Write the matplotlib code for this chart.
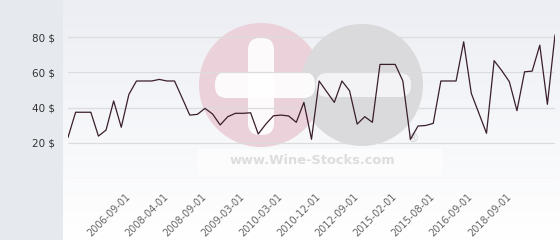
import matplotlib
matplotlib.use("Agg")
import matplotlib.pyplot as plt
import numpy as np
from matplotlib.patches import Circle, FancyBboxPatch

# prix (en $), un point par cotation
prices = [23.2, 37.4, 37.4, 37.4, 23.9, 27.3, 43.8, 28.9, 47.5, 55.1,
          55.1, 55.1, 56.0, 55.1, 55.1, 45.5, 35.8, 36.2, 39.6, 36.4,
          30.2, 34.9, 36.8, 36.8, 37.1, 25.1, 30.7, 35.4, 35.8, 35.3,
          31.7, 43.0, 22.1, 55.1, 49.0, 43.0, 55.1, 49.6, 30.7, 34.9,
          31.7, 64.5, 64.5, 64.5, 55.2, 22.1, 29.6, 29.9, 31.1, 55.1,
          55.1, 55.1, 77.3, 48.1, 36.8, 25.5, 66.6, 61.0, 54.7, 38.3,
          60.3, 60.7, 75.4, 41.9, 81.1]

tick_pos = [8, 13, 18, 23, 28, 33, 38, 43, 48, 53, 58]
tick_labels = ['2006-09-01', '2008-04-01', '2008-09-01', '2009-03-01', '2010-03-01',
               '2010-12-01', '2012-09-01', '2015-02-01', '2015-08-01', '2016-09-01',
               '2018-09-01']
y_ticks = [0, 20, 40, 60, 80]

W, H = 560, 240
fig = plt.figure(figsize=(W / 100, H / 100), dpi=100)
fig.patch.set_facecolor('#e6eaee')

# fond dégradé de la zone du graphique
bg = fig.add_axes([63 / W, 0, 1 - 63 / W, 1])
grad = np.linspace(0, 1, 256).reshape(-1, 1)
top = np.array(matplotlib.colors.to_rgb('#eceef3'))
bottom = np.array([1.0, 1.0, 1.0])
img = top + (bottom - top) * grad[..., None]
bg.imshow(img, aspect='auto', extent=[0, 1, 0, 1])
bg.set_axis_off()

# filigrane
wm = fig.add_axes([0, 0, 1, 1])
wm.set_xlim(0, W)
wm.set_ylim(H, 0)
wm.set_axis_off()
wm.add_patch(FancyBboxPatch((198, 149), 244, 26, boxstyle='square,pad=0',
                            fc='white', ec='none', alpha=0.6))
wm.add_patch(Circle((261, 85), 62, fc='#ebd1d9', ec='none'))
wm.add_patch(Circle((362, 85), 61, fc='#dadadd', ec='none'))
wm.add_patch(FancyBboxPatch((248, 38), 26, 97, boxstyle='round,pad=0,rounding_size=12',
                            fc='white', ec='none', alpha=0.9))
wm.add_patch(FancyBboxPatch((215, 72), 100, 26, boxstyle='round,pad=0,rounding_size=12',
                            fc='white', ec='none', alpha=0.9))
wm.add_patch(FancyBboxPatch((316, 73), 95, 24, boxstyle='round,pad=0,rounding_size=11',
                            fc='#f6f6f8', ec='none', alpha=0.9))
wm.text(312, 161, 'www.Wine-Stocks.com', ha='center', va='center', fontsize=9.4,
        fontweight='bold', color='#dddde0')
wm.text(413, 139, '®', ha='center', va='center', fontsize=9, color='#cfcfd3')

ax = fig.add_axes([68 / W, 1 - 178.3 / H, (555 - 68) / W, (178.3 - 1.7) / H])
ax.patch.set_alpha(0)
x = np.arange(len(prices))
ax.plot(x, prices, color='#3a1e2c', lw=0.9)
ax.set_xlim(0, len(prices) - 1)
ax.set_ylim(0, 100)

ax.set_yticks(y_ticks)
ax.set_yticklabels(['' if v == 0 else f'{v} $' for v in y_ticks])
ax.tick_params(axis='y', length=0, pad=9, labelsize=7.5, labelcolor='#333333')
ax.grid(axis='y', color='#dcdcdc', lw=0.9)

ax.set_xticks(tick_pos)
ax.set_xticklabels(tick_labels, rotation=45, ha='right', va='center',
                   rotation_mode='anchor')
ax.tick_params(axis='x', length=0, pad=12, labelsize=7, labelcolor='#666666')
for s in ax.spines.values():
    s.set_visible(False)

fig.savefig('out.png', dpi=100)
